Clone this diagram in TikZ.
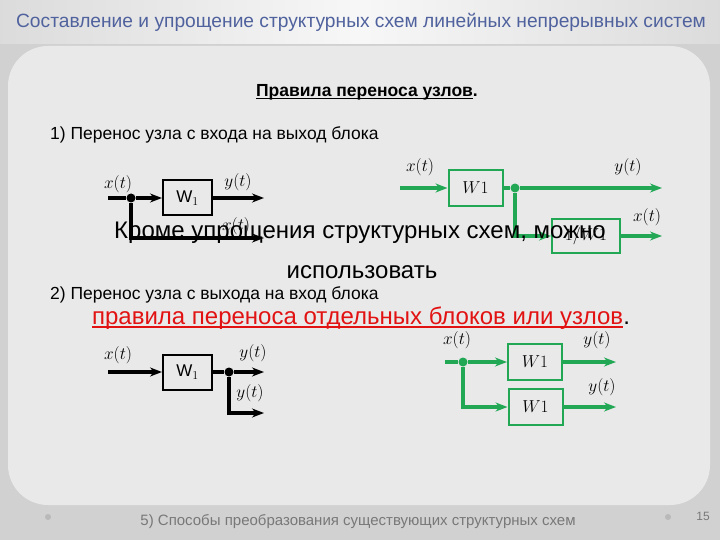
\documentclass[tikz,border=0pt]{standalone}
\usepackage{fontspec}
\setmainfont{Liberation Sans}
\usetikzlibrary{arrows.meta}
\definecolor{slidegreen}{RGB}{34,168,84}
\definecolor{titleblue}{RGB}{80,98,158}
\definecolor{rulered}{RGB}{226,18,18}
\definecolor{footgray}{RGB}{120,120,120}
\newcommand{\thickul}[1]{\setbox0=\hbox{#1}\leavevmode\rlap{\copy0}\raisebox{-3.2pt}{\rule{\wd0}{1.4pt}}}

\begin{document}
\begin{tikzpicture}[x=1pt, y=-1pt, >={Stealth[length=12pt,width=9pt]}]
\tikzstyle{black_block} = [draw=black, line width=2, minimum width=49, minimum height=35, inner sep=0, font=\fontsize{17}{17}\selectfont]
\tikzstyle{green_block} = [draw=slidegreen, line width=2, minimum width=54, minimum height=36, inner sep=0, font=\fontsize{17}{17}\selectfont]
\tikzstyle{black_line} = [draw=black, line width=3.4]
\tikzstyle{green_line} = [draw=slidegreen, line width=3.4]
\tikzstyle{black_dot} = [circle, fill=black, inner sep=0, minimum size=9]
\tikzstyle{green_dot} = [circle, fill=slidegreen, inner sep=0, minimum size=9]
\tikzstyle{sig_label} = [inner sep=0, font=\fontsize{18}{18}\selectfont]
\tikzstyle{plain_text} = [inner sep=0, font=\fontsize{17.5}{17.5}\selectfont]
\tikzstyle{big_text} = [inner sep=0, font=\fontsize{24}{24}\selectfont]

% slide background
\useasboundingbox (0,0) rectangle (720,540);
\fill[gray!36] (0,0) rectangle (720,540);
\fill[gray!17, rounded corners=40] (8,46) rectangle (710,505);
\shade[left color=gray!28, right color=gray!28, middle color=gray!6] (0,0) rectangle (720,44);
\fill[gray!55] (48,517) circle (3);
\fill[gray!55] (668,517) circle (3);

% headings
\node[inner sep=0, text=titleblue, font=\fontsize{19.2}{19.2}\selectfont] (title) at (361,22) {Составление и упрощение структурных схем линейных непрерывных  систем};
\node[plain_text, font=\fontsize{17.5}{17.5}\selectfont\bfseries] (rules) at (367,92) {\thickul{Правила переноса узлов}.};
\node[plain_text, anchor=west] (case1) at (50,135) {1) Перенос узла с входа на выход блока};
\node[plain_text, anchor=west] (case2) at (50,295) {2) Перенос узла с выхода на вход блока};

% case 1, black
\node[black_block] (w1a) at (187.5,198) {W$_1$};
\node[black_dot] (br1) at (131,198) {};
\coordinate (in1) at (108,198);
\coordinate (out1) at (264,198);
\coordinate (out1b) at (264,238);
\node[sig_label] (x1) at (118,184) {$x(t)$};
\node[sig_label] (y1) at (238,182) {$y(t)$};
\node[sig_label] (x1b) at (236,226) {$x(t)$};
\draw[black_line] (in1) -- (br1);
\draw[black_line,->] (br1) -- (w1a);
\draw[black_line,->] (w1a) -- (out1);
\draw[black_line,->] (br1) |- (out1b);

% case 1, green
\node[green_block] (g1a) at (475.5,188) {$W1$};
\node[green_block, minimum width=68, minimum height=34] (g1b) at (586,236) {$1/W1$};
\node[green_dot] (gbr1) at (515,188) {};
\coordinate (gin1) at (400,188);
\coordinate (gout1) at (662,188);
\coordinate (gout1b) at (662,236);
\node[sig_label] (gx1) at (420,167) {$x(t)$};
\node[sig_label] (gy1) at (628,167) {$y(t)$};
\node[sig_label] (gx1b) at (647,217) {$x(t)$};
\draw[green_line,->] (gin1) -- (g1a);
\draw[green_line] (g1a) -- (gbr1);
\draw[green_line,->] (gbr1) -- (gout1);
\draw[green_line,->] (gbr1) |- (g1b);
\draw[green_line,->] (g1b) -- (gout1b);

% overlay text
\node[big_text] (krome) at (360,233) {Кроме упрощения структурных схем, можно};
\node[big_text] (ispol) at (362,272) {использовать};
\node[big_text] (pravila) at (361,318) {{\color{rulered}\thickul{правила переноса отдельных блоков или узлов}}.};

% case 2, black
\node[black_block] (w1b) at (187.5,372) {W$_1$};
\node[black_dot] (br2) at (229,372) {};
\coordinate (in2) at (108,372);
\coordinate (out2) at (264,372);
\coordinate (out2b) at (264,413);
\node[sig_label] (x2) at (118,355) {$x(t)$};
\node[sig_label] (y2) at (253,353) {$y(t)$};
\node[sig_label] (y2b) at (250,393) {$y(t)$};
\draw[black_line,->] (in2) -- (w1b);
\draw[black_line] (w1b) -- (br2);
\draw[black_line,->] (br2) -- (out2);
\draw[black_line,->] (br2) |- (out2b);

% case 2, green
\node[green_block] (g2a) at (535,362) {$W1$};
\node[green_block] (g2b) at (535.5,407) {$W1$};
\node[green_dot] (gbr2) at (463,362) {};
\coordinate (gin2) at (445,362);
\coordinate (gout2) at (616,362);
\coordinate (gout2b) at (616,407);
\node[sig_label] (gx2) at (457,340) {$x(t)$};
\node[sig_label] (gy2) at (597,340) {$y(t)$};
\node[sig_label] (gy2b) at (602,387) {$y(t)$};
\draw[green_line] (gin2) -- (gbr2);
\draw[green_line,->] (gbr2) -- (g2a);
\draw[green_line,->] (g2a) -- (gout2);
\draw[green_line,->] (gbr2) |- (g2b);
\draw[green_line,->] (g2b) -- (gout2b);

% footer
\node[inner sep=0, text=footgray, font=\fontsize{15}{15}\selectfont] (foot) at (358,522) {5) Способы  преобразования существующих структурных схем};
\node[inner sep=0, text=footgray, font=\fontsize{12}{12}\selectfont] (page) at (703,516) {15};
\end{tikzpicture}
\end{document}
